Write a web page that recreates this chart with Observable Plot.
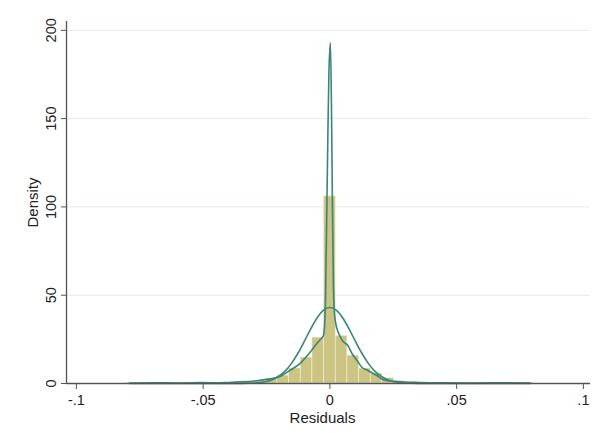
<!DOCTYPE html>
<html><head><meta charset="utf-8">
<script src="https://cdn.jsdelivr.net/npm/d3@7"></script>
<script src="https://cdn.jsdelivr.net/npm/@observablehq/plot@0.6"></script>
<style>body{margin:0;background:#fff;} #chart svg{display:block;}</style>
</head><body><div id="chart"></div>
<script>
// Histogram bins (centers) and densities
const binWidth = 0.0046;
const binCenters = [-0.0782,-0.0736,-0.069,-0.0644,-0.0598,-0.0552,-0.0506,-0.046,-0.0414,-0.0368,-0.0322,-0.0276,-0.023,-0.0184,-0.0138,-0.0092,-0.0046,0,0.0046,0.0092,0.0138,0.0184,0.023,0.0276,0.0322,0.0368,0.0414,0.046,0.0506,0.0552,0.0598,0.0644,0.069,0.0736,0.0782];
const binDensity = [0.4,0.3,0,0,0.1,0.4,0.4,0.2,0.3,0.5,0.9,1.5,2.5,4.5,8.5,14.7,26,106,27,15.8,8.5,5.7,3,1.4,0.8,0.6,0.3,0.2,0.1,0.2,0.4,0.3,0.1,0.4,0.3];

// Kernel density curve
const kdeX = [-0.079,-0.07,-0.06,-0.05,-0.045,-0.04,-0.035,-0.03,-0.0276,-0.0237,-0.0197,-0.0158,-0.0118,-0.0079,-0.0052,-0.0037,-0.0026,-0.0021,-0.0017,-0.0013,-0.0008,-0.0004,0.0002,0.0006,0.001,0.0014,0.0018,0.0022,0.0028,0.0039,0.0051,0.0071,0.0087,0.0107,0.0126,0.015,0.0185,0.0209,0.0237,0.0276,0.035,0.045,0.055,0.065,0.079];
const kdeY = [0.2,0.4,0.3,0.5,0.4,0.6,0.9,1.4,1.8,2.6,4,7.4,11.3,17.5,22.6,25,27,33,50,90,140,175,193,160,100,55,40,35,31,27,24,21.5,17,13,9.2,7.4,4.5,2.3,1.5,1,0.6,0.4,0.3,0.4,0.2];

// Normal density curve
const normX = [-0.079,-0.06,-0.045,-0.04,-0.035,-0.03,-0.0275,-0.025,-0.0225,-0.02,-0.0175,-0.015,-0.0125,-0.01,-0.0075,-0.005,-0.0025,0,0.0025,0.005,0.0075,0.01,0.0125,0.015,0.0175,0.02,0.0225,0.025,0.0275,0.03,0.035,0.04,0.045,0.06,0.079];
const normY = [0,0,0,0.004,0.036,0.24,0.54,1.16,2.3,4.3,7.3,11.7,17.4,24.1,31.1,37.2,41.5,43,41.5,37.2,31.1,24.1,17.4,11.7,7.3,4.3,2.3,1.16,0.54,0.24,0.036,0.004,0,0,0];

const xTicks = [-0.1,-0.05,0,0.05,0.1];
const xTickLabels = ["-.1","-.05","0",".05",".1"];
const yTicks = [0,50,100,150,200];
const yTickLabels = ["0","50","100","150","200"];

const bins = binCenters.map((c,i)=>({x1:c-binWidth/2, x2:c+binWidth/2, h:binDensity[i]}));
const kde = kdeX.map((x,i)=>({x, y:kdeY[i]}));
const norm = normX.map((x,i)=>({x, y:normY[i]}));
const xLab = new Map(xTicks.map((t,i)=>[t,xTickLabels[i]]));
const yLab = new Map(yTicks.map((t,i)=>[t,yTickLabels[i]]));

const xMin = -0.1039, xMax = 0.1028;
const lineColor = "#3a857a";
const axisColor = "#555";

const chart = Plot.plot({
  width: 605, height: 441,
  marginLeft: 66, marginRight: 15, marginTop: 21, marginBottom: 58,
  x: {domain: [xMin, xMax]},
  y: {domain: [0, 205]},
  style: {fontFamily: "'Liberation Sans', Arial, Helvetica, sans-serif", fontSize: "14.5px", color: "#222", background: "#fff"},
  marks: [
    Plot.gridY(yTicks.slice(1), {stroke: "#e1ecee", strokeOpacity: 1, strokeWidth: 1}),
    Plot.rectY(bins, {x1: "x1", x2: "x2", y: "h", fill: "#cbc482", stroke: "#f3f1dc", strokeWidth: 0.6}),
    Plot.line(kde, {x: "x", y: "y", stroke: lineColor, strokeWidth: 1.6, curve: "monotone-x"}),
    Plot.line(norm, {x: "x", y: "y", stroke: lineColor, strokeWidth: 1.6, curve: "monotone-x"}),
    Plot.ruleY([0], {stroke: axisColor, strokeWidth: 1.3}),
    Plot.ruleX([xMin], {stroke: axisColor, strokeWidth: 1.3}),
    Plot.axisX(xTicks, {tickFormat: d => xLab.get(d), tickSize: 6, tickPadding: 5, stroke: axisColor, label: null}),
    Plot.axisY(yTicks, {tickFormat: () => "", tickSize: 5, stroke: axisColor, label: null}),
    Plot.text(yTicks, {x: xMin, y: d => d, text: d => yLab.get(d), rotate: -90, textAnchor: "middle", lineAnchor: "bottom", dx: -11, fontSize: 14.5, fill: "#222"}),
    Plot.text(["Residuals"], {frameAnchor: "bottom", lineAnchor: "bottom", dy: 39, dx: -6, fontSize: 15, fill: "#222"}),
    Plot.text(["Density"], {frameAnchor: "left", textAnchor: "middle", lineAnchor: "middle", dx: -33, rotate: -90, fontSize: 15, fill: "#222"})
  ]
});
document.getElementById("chart").appendChild(chart);
</script>
</body></html>
